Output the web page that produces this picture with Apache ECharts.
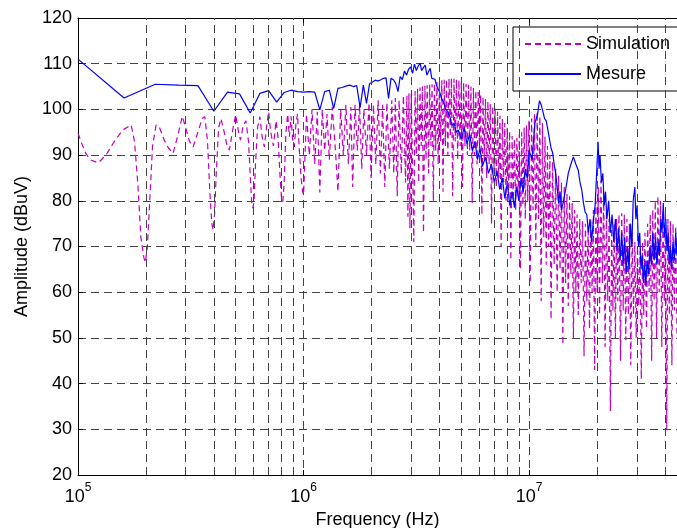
<!DOCTYPE html>
<html><head><meta charset="utf-8">
<script src="https://cdn.jsdelivr.net/npm/echarts@6/dist/echarts.min.js"></script>
<style>html,body{margin:0;padding:0;background:#fff}#c{width:677px;height:528px}</style>
</head><body><div id="c"></div>
<script>
const seriesNames = ['Simulation', 'Mesure'];
const xRange = [1e5, 4.52e7];
const yRange = [20, 120];
const yStep = 10;
const minorGridFreqs = [2e5,3e5,4e5,5e5,6e5,7e5,8e5,9e5,2e6,3e6,4e6,5e6,6e6,7e6,8e6,9e6,2e7,3e7,4e7];

const simulation = [
[1.00e5,94.8],[1.04e5,92.5],[1.08e5,90.5],[1.13e5,89],[1.23e5,88.3],[1.33e5,90],[1.45e5,93],[1.58e5,95.5],[1.72e5,96.6],[1.78e5,93],[1.84e5,84],[1.90e5,72],[1.96e5,67.5],[1.99e5,66.5],[2.03e5,70],[2.08e5,80],[2.14e5,92],[2.22e5,96.6],[2.30e5,96],[2.40e5,93.5],[2.52e5,91.5],[2.64e5,90.4],[2.76e5,94],[2.90e5,98.5],[3.00e5,96],[3.12e5,93],[3.24e5,91.8],[3.40e5,95],[3.55e5,98],[3.65e5,98.4],[3.75e5,93],[3.84e5,82],[3.92e5,75],[3.97e5,73.6],[4.03e5,77],[4.10e5,86],[4.20e5,96],[4.30e5,98],[4.45e5,95],[4.58e5,92],[4.69e5,91.1],[4.85e5,95.5],[5.00e5,98.8],[5.15e5,95],[5.25e5,93.3],[5.40e5,96.5],[5.55e5,97.5],[5.70e5,93],[5.82e5,84],[5.90e5,79],[5.96e5,78.4],[6.03e5,80],[6.12e5,88],[6.25e5,96],[6.40e5,98.4],[6.55e5,94],[6.70e5,91.8],[6.85e5,96],[7.00e5,99.5],[7.15e5,95],[7.35e5,92],[7.55e5,97.5],[7.70e5,94],[7.85e5,86],[7.98e5,80.5],[8.09e5,79.8],[8.20e5,84],[8.35e5,95],[8.50e5,99],[8.65e5,94],[8.80e5,98.5],[8.95e5,93],[9.10e5,91.8],[9.25e5,97],[9.40e5,99],[9.55e5,92],[9.75e5,85],[9.90e5,82],[1.00e6,81.3],
[1.03e6,99],[1.06e6,90],[1.09e6,100],[1.12e6,88],[1.15e6,99.5],[1.18e6,81.8],[1.21e6,100],[1.24e6,91],[1.27e6,99],[1.30e6,89],[1.34e6,100.5],[1.38e6,92],[1.42e6,82],[1.46e6,100],[1.50e6,90],[1.54e6,101],[1.58e6,88],[1.62e6,100.5],[1.65e6,83],[1.69e6,101],[1.73e6,91],[1.77e6,101],[1.81e6,87],[1.85e6,100],[1.90e6,90],[1.95e6,101.5],[1.99e6,85],[2.04e6,101],[2.09e6,88],[2.14e6,102],[2.19e6,86],[2.24e6,101],[2.29e6,83],[2.34e6,101.5],[2.40e6,87],[2.46e6,102],[2.51e6,86],[2.55e6,102.5],[2.60e6,81],[2.65e6,102],[2.71e6,86],[2.77e6,103],[2.83e6,84],[2.87e6,103],[2.90e6,76.5],[2.93e6,103.5],[2.96e6,74],[3.00e6,103.5],
[3.04e6,88],[3.08e6,71],[3.12e6,104],[3.16e6,90],[3.20e6,104.5],[3.24e6,84],[3.28e6,104.8],[3.32e6,92],[3.36e6,105],[3.40e6,73],[3.45e6,105.2],[3.49e6,89],[3.53e6,105.3],[3.58e6,86],[3.62e6,105.4],[3.67e6,92],[3.71e6,105.5],[3.76e6,80],[3.80e6,105.8],[3.85e6,91],[3.90e6,106],[3.95e6,88],[4.00e6,106.2],[4.05e6,93],[4.10e6,106.4],[4.15e6,82],[4.20e6,106.5],[4.25e6,92],[4.30e6,106.6],[4.36e6,90],[4.41e6,106.7],[4.47e6,94],[4.52e6,106.8],[4.58e6,81],[4.64e6,106.7],[4.70e6,93],[4.76e6,106.6],[4.82e6,89],[4.88e6,106.4],[4.94e6,92],[5.00e6,106.1],[5.06e6,83],[5.12e6,105.9],[5.19e6,92],[5.25e6,105.6],[5.32e6,90],[5.38e6,105.4],[5.45e6,91],[5.52e6,105],[5.59e6,79.5],[5.66e6,104.7],[5.73e6,90],[5.80e6,104.2],[5.87e6,88],[5.94e6,103.8],[6.02e6,91],[6.09e6,103.3],[6.17e6,77],[6.24e6,102.8],[6.32e6,89],[6.40e6,102.3],[6.48e6,85],[6.56e6,101.8],[6.64e6,88],[6.72e6,101.2],[6.81e6,75],[6.89e6,100.8],[6.98e6,86],[7.06e6,100.2],[7.15e6,83],[7.24e6,99.5],[7.33e6,85],[7.42e6,98.6],[7.51e6,70],[7.60e6,97.9],[7.70e6,84],[7.79e6,97],[7.89e6,80],[7.99e6,96],[8.09e6,82],[8.19e6,95.2],[8.29e6,67],[8.40e6,94.2],[8.50e6,80],[8.60e6,93.5],[8.71e6,78],[8.82e6,93.8],[8.93e6,81],[9.04e6,94.5],[9.15e6,65],[9.26e6,95],[9.38e6,79],[9.50e6,96],[9.61e6,76],[9.73e6,96.5],[9.85e6,80],[9.97e6,97.5],
[1.01e7,62],[1.025e7,98],[1.04e7,78],[1.055e7,99],[1.07e7,70],[1.085e7,99.5],[1.10e7,76],[1.115e7,98.5],[1.13e7,58],[1.145e7,97],[1.16e7,72],[1.175e7,94],[1.19e7,66],[1.205e7,92],[1.22e7,70],[1.235e7,90],[1.25e7,54],[1.27e7,88.5],[1.29e7,66],[1.31e7,87],[1.33e7,60],[1.35e7,85.5],[1.37e7,65],[1.39e7,84],[1.41e7,48.5],[1.43e7,83],[1.45e7,62],[1.47e7,81.5],[1.49e7,57],[1.51e7,81],[1.53e7,64],[1.55e7,79.5],[1.57e7,50],[1.59e7,78],[1.61e7,60],[1.63e7,77],[1.65e7,55],[1.675e7,76],[1.70e7,62],[1.725e7,75.5],[1.75e7,46],[1.775e7,75],[1.80e7,58],[1.825e7,74.5],[1.85e7,52],[1.875e7,76],[1.90e7,60],[1.925e7,78],[1.95e7,43],[1.975e7,80],[2.00e7,60],[2.025e7,83],[2.05e7,55],[2.08e7,84.5],[2.11e7,62],[2.14e7,82],[2.17e7,48],[2.20e7,78],[2.23e7,58],[2.26e7,76],[2.29e7,34],[2.32e7,74],[2.35e7,56],[2.38e7,75],[2.41e7,50],[2.44e7,76],[2.47e7,58],[2.50e7,77],[2.54e7,45],[2.57e7,77.3],[2.61e7,56],[2.64e7,77],[2.68e7,49.5],[2.71e7,76],[2.75e7,55],[2.78e7,75],[2.82e7,44],[2.86e7,73],[2.90e7,55],[2.94e7,71],[2.98e7,50],[3.02e7,70],[3.06e7,57],[3.10e7,69],[3.14e7,41],[3.18e7,71],[3.22e7,55],[3.26e7,73],[3.31e7,52],[3.35e7,75],[3.40e7,60],[3.44e7,77],[3.49e7,45],[3.53e7,78],[3.58e7,58],[3.62e7,80],[3.67e7,50],[3.72e7,81],[3.77e7,60],[3.82e7,80],[3.87e7,48],[3.92e7,78],[3.97e7,58],[4.02e7,77],[4.07e7,30],[4.12e7,76],[4.18e7,55],[4.23e7,75.5],[4.29e7,44],[4.34e7,75],[4.40e7,56],[4.46e7,74.5],[4.52e7,50]
];

const mesure = [
[1.0e5,111],[1.6e5,102.5],[2.2e5,105.5],[2.8e5,105.3],[3.4e5,105.2],[4.0e5,99.6],[4.6e5,103.8],[5.2e5,103.4],[5.8e5,99.2],[6.4e5,103.5],[7.0e5,104.1],[7.6e5,101.6],[8.2e5,103.7],[8.8e5,104.2],[9.4e5,103.9],[1.0e6,103.8],[1.06e6,103.9],[1.12e6,103.8],[1.18e6,99.9],[1.24e6,103.9],[1.30e6,104.2],[1.36e6,100.2],[1.42e6,104.6],[1.48e6,104.8],[1.54e6,105.1],[1.60e6,105.3],[1.66e6,105],[1.72e6,105.2],[1.78e6,100.4],[1.84e6,105.3],[1.90e6,101.3],[1.96e6,105.6],[2.02e6,106],[2.08e6,106.4],[2.14e6,106.2],[2.20e6,106.5],[2.26e6,106.8],[2.32e6,106.9],[2.38e6,102.4],[2.44e6,106.8],[2.50e6,106.5],[2.56e6,105.7],[2.62e6,103.9],[2.68e6,107.2],[2.74e6,106.5],[2.80e6,108.4],[2.86e6,107.5],[2.92e6,108.8],[2.98e6,109.3],[3.04e6,107.9],[3.10e6,109.9],[3.16e6,108.5],[3.22e6,109.5],[3.28e6,110.1],[3.34e6,108.5],[3.40e6,109.2],[3.46e6,109.7],[3.52e6,107.5],[3.58e6,108.3],[3.64e6,109],[3.70e6,106.8],[3.76e6,106.4],[3.82e6,106.6],[3.88e6,105.3],[3.94e6,104.5],[4.00e6,103.9],[4.09e6,102.4],[4.18e6,101.5],[4.27e6,100],[4.36e6,99.5],[4.45e6,98.4],[4.55e6,96.5],[4.65e6,97],[4.75e6,95],[4.85e6,95.5],
[5.00e6,93.5],[5.15e6,96],[5.30e6,92.5],[5.45e6,94.5],[5.60e6,91],[5.75e6,93],[5.90e6,89],[6.05e6,91.5],[6.20e6,87.5],[6.40e6,89.5],[6.60e6,86],[6.80e6,88],[7.00e6,84],[7.20e6,86.5],[7.40e6,82.5],[7.60e6,85],[7.80e6,80.5],[8.00e6,84],[8.20e6,79],[8.40e6,82],[8.60e6,78.5],[8.80e6,83],[9.00e6,80],[9.20e6,85],[9.40e6,82],[9.60e6,87],[9.80e6,85],[1.00e7,91],[1.03e7,89],[1.06e7,97],[1.09e7,99],[1.11e7,101.9],
[1.13e7,101],[1.15e7,99.5],[1.17e7,98],[1.19e7,97.5],[1.21e7,95.5],[1.23e7,93.5],[1.25e7,91.5],[1.27e7,90.5],[1.29e7,88],[1.31e7,86],[1.33e7,83],[1.35e7,79.5],[1.37e7,82],[1.39e7,78],[1.42e7,80],[1.45e7,82.4],[1.49e7,86],[1.53e7,88],[1.57e7,89.6],[1.61e7,88],[1.65e7,86.7],[1.68e7,84],[1.71e7,82.4],[1.74e7,79.5],[1.77e7,77.5],[1.80e7,77],
[1.83e7,73],[1.86e7,76],[1.89e7,71],[1.92e7,75],[1.96e7,79],[1.99e7,86],[2.02e7,92.9],[2.04e7,87],[2.06e7,90],[2.09e7,84],[2.12e7,86],[2.15e7,79],[2.18e7,82],[2.21e7,76],[2.25e7,80],[2.29e7,73],[2.33e7,77],[2.37e7,71],[2.41e7,76],[2.45e7,69],[2.49e7,74],[2.53e7,67],[2.57e7,73],[2.61e7,66],[2.65e7,72],[2.69e7,64],[2.73e7,70],[2.77e7,65],[2.81e7,75],[2.85e7,70],[2.89e7,80],[2.94e7,83],[2.97e7,76],[3.01e7,79],[3.05e7,70],[3.09e7,73],[3.13e7,65],[3.17e7,68],[3.21e7,62],[3.25e7,66],[3.29e7,61.5],[3.33e7,67],[3.38e7,64],[3.43e7,70],[3.48e7,66],[3.53e7,73],[3.58e7,67],[3.63e7,72],[3.68e7,66],[3.73e7,71],[3.78e7,68],[3.83e7,76],[3.88e7,73],[3.93e7,79.5],[3.98e7,72],[4.03e7,76],[4.08e7,69],[4.13e7,73],[4.18e7,66],[4.23e7,70],[4.28e7,65],[4.34e7,71],[4.40e7,67],[4.46e7,73],[4.52e7,68]
];

const FONT = 'Liberation Sans, Arial, sans-serif';
const gridDash = {color: '#444', type: [8, 5], width: 1};

const chart = echarts.init(document.getElementById('c'), null, {renderer: 'canvas'});
chart.setOption({
  animation: false,
  backgroundColor: '#fff',
  grid: {left: 78, top: 18, right: 0, bottom: 53, show: false, outerBoundsMode: 'none', containLabel: false},
  legend: {
    data: seriesNames, orient: 'vertical', left: 513, top: 27, width: 200,
    padding: [8, 40, 8, 11], itemWidth: 56, itemHeight: 14, itemGap: 12,
    backgroundColor: '#fff', borderColor: '#000', borderWidth: 1,
    itemStyle: {color: 'transparent', borderWidth: 0, opacity: 0},
    textStyle: {fontSize: 18, color: '#000', fontFamily: FONT}
  },
  xAxis: [{
    type: 'log', logBase: 10, min: xRange[0], max: xRange[1],
    axisLine: {show: true, lineStyle: {color: '#000', width: 1}},
    axisTick: {show: true, inside: true, length: 5, lineStyle: {color: '#000'}},
    splitLine: {show: true, lineStyle: gridDash},
    axisLabel: {
      margin: 7,
      formatter: function (v) {
        const l = Math.log10(v); const e = Math.round(l);
        if (Math.abs(l - e) > 1e-6) return '';
        return '{b|10}{s|' + e + '}';
      },
      rich: {
        b: {fontSize: 18, lineHeight: 24, verticalAlign: 'bottom', color: '#000', fontFamily: FONT},
        s: {fontSize: 12, lineHeight: 12, verticalAlign: 'top', color: '#000', fontFamily: FONT}
      }
    },
    name: 'Frequency (Hz)', nameLocation: 'middle', nameGap: 29,
    nameTextStyle: {fontSize: 18, color: '#000', fontFamily: FONT}
  }, {
    type: 'log', logBase: 10, min: xRange[0], max: xRange[1], position: 'top',
    axisLine: {show: true, lineStyle: {color: '#000', width: 1}},
    axisTick: {show: true, inside: true, length: 5, lineStyle: {color: '#000'}},
    splitLine: {show: false}, axisLabel: {show: false}
  }],
  yAxis: {
    type: 'value', min: yRange[0], max: yRange[1], interval: yStep,
    axisLine: {show: true, lineStyle: {color: '#000', width: 1}},
    axisTick: {show: true, inside: true, length: 5, lineStyle: {color: '#000'}},
    splitLine: {show: true, lineStyle: gridDash},
    axisLabel: {fontSize: 18, color: '#000', fontFamily: FONT, margin: 6},
    name: 'Amplitude (dBuV)', nameLocation: 'middle', nameGap: 46,
    nameTextStyle: {fontSize: 18, color: '#000', fontFamily: FONT}
  },
  series: [
    {type: 'line', data: [], z: 1, silent: true,
     markLine: {silent: true, symbol: ['none', 'none'], label: {show: false}, animation: false,
       lineStyle: gridDash, data: minorGridFreqs.map(f => ({xAxis: f}))}},
    {name: seriesNames[0], type: 'line', data: simulation, symbol: 'none', z: 3, silent: true,
     lineStyle: {color: '#c000c0', width: 1.2, type: [6, 4]}, itemStyle: {color: '#c000c0'}},
    {name: seriesNames[1], type: 'line', data: mesure, symbol: 'none', z: 4, silent: true,
     lineStyle: {color: '#0000ff', width: 1.2}, itemStyle: {color: '#0000ff'}}
  ]
});
</script></body></html>
